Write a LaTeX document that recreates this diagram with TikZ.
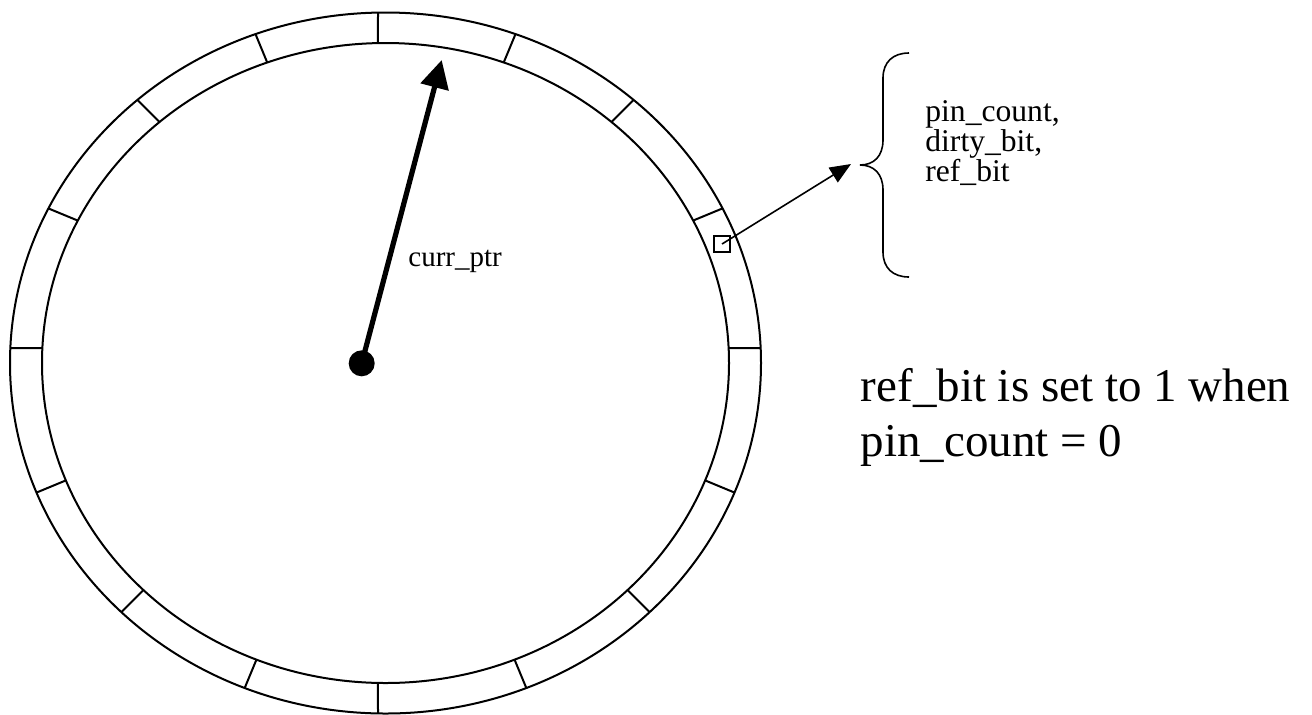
\documentclass[tikz,border=0pt]{standalone}
\usepackage{fontspec}
\setmainfont{Liberation Serif}
\usetikzlibrary{arrows.meta,intersections}
\begin{document}
\begin{tikzpicture}[x=0.5pt,y=-0.5pt,
  ring/.style={line width=1pt},
  tick/.style={line width=1pt},
  pointer/.style={line width=2.6pt,-{Triangle[length=14pt,width=14pt]}},
  link/.style={line width=0.8pt,-{Triangle[length=10.5pt,width=8.6pt]}},
  hub/.style={circle,fill=black,minimum size=13pt,inner sep=0pt},
  slot/.style={draw,line width=0.7pt,minimum size=8pt,inner sep=0pt},
  brace/.style={line width=0.8pt},
  label/.style={inner sep=0pt,font=\fontsize{14.5}{15.3}\selectfont},
  fieldtext/.style={inner sep=0pt,font=\fontsize{15.8}{15.1}\selectfont},
  note/.style={inner sep=0pt,font=\fontsize{23.5}{27.5}\selectfont}]
\useasboundingbox (0,0) rectangle (1312,714);

% clock ring: two concentric ellipses
\coordinate (C) at (385.5,363);
\coordinate (P) at (385.5,348);
\draw[ring, name path=inner] (C) ellipse [x radius=343.5, y radius=320];
\draw[ring, name path=outer] (C) ellipse [x radius=375.5, y radius=350.5];

% frame separators every 22.5 degrees
\foreach \a in {0,22.5,45,67.5,112.5,135,157.5,180,202.5,225,247.5,292.5,315,337.5} {
  \path[name path=ray] (P) -- ++(\a:600);
  \path[name intersections={of=ray and inner,by=ti}];
  \path[name intersections={of=ray and outer,by=to}];
  \draw[tick] (ti) -- (to);
}
\path[name path=vline] (378,-20) -- (378,740);
\path[name intersections={of=vline and inner,by={it,ib},sort by=vline}];
\path[name intersections={of=vline and outer,by={ot,ob},sort by=vline}];
\draw[tick] (it) -- (ot);
\draw[tick] (ib) -- (ob);

% clock hand
\node[hub] (hub) at (361.7,363.3) {};
\coordinate (handtip) at (441.7,60);
\draw[pointer] (hub.center) -- (handtip);
\node[label,anchor=base west] (ptrlabel) at (408,266) {curr\_ptr};

% one frame slot and its metadata
\node[slot] (slot) at (722,244) {};
\coordinate (btip) at (860,165);
\coordinate (atip) at (851,164);
\draw[link] (slot.center) -- (atip);
\draw[brace] (909,53) .. controls (893,53) and (883,62) .. (883,78) -- (883,140)
  .. controls (883,156) and (874,165) .. (btip)
  .. controls (874,165) and (883,174) .. (883,190) -- (883,252)
  .. controls (883,268) and (893,277) .. (909,277);
% multi-line nodes: the base anchor sits on the last line
\node[fieldtext,anchor=base west,align=left] (fields) at (925,181.7) {pin\_count,\\dirty\_bit,\\ref\_bit};

\node[note,anchor=base west,align=left] (rule) at (860.5,456.7) {ref\_bit is set to 1 when\\pin\_count = 0};
\end{tikzpicture}
\end{document}
